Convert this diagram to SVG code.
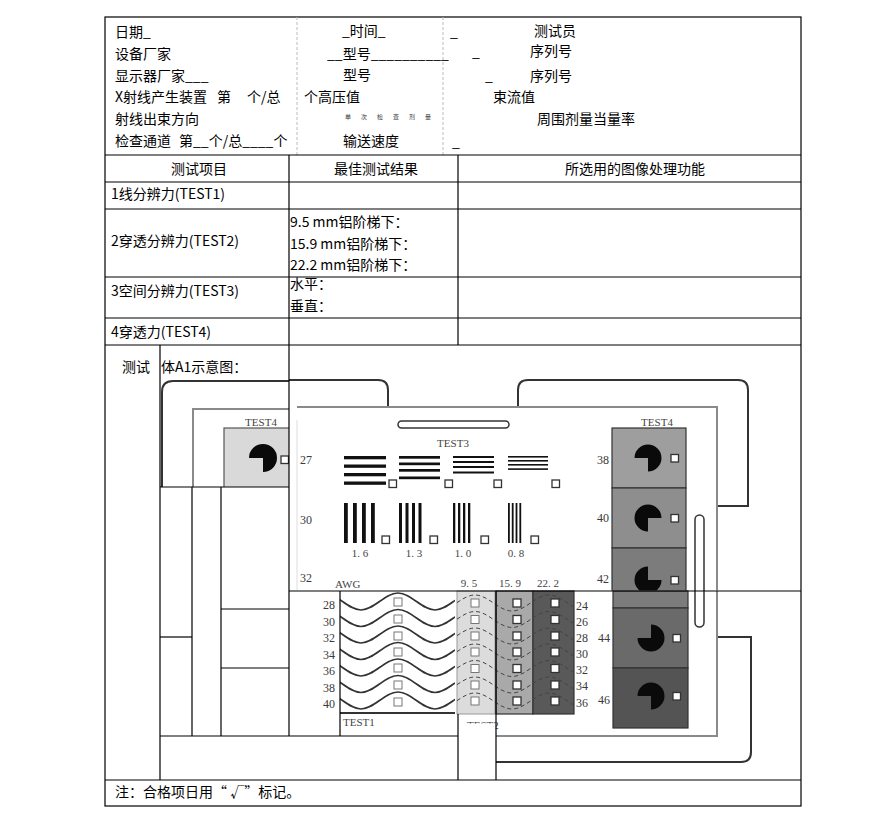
<svg xmlns="http://www.w3.org/2000/svg" width="895" height="816" viewBox="0 0 895 816">
<defs>
<style>
.t{font-family:"Noto Sans CJK SC","Noto Sans",sans-serif;font-size:14px;fill:#000}
.tiny{font-family:"Noto Sans CJK SC",sans-serif;font-size:6px;fill:#333;letter-spacing:10px}
.s{font-family:"Liberation Serif",serif;font-size:11px;fill:#444}
.n{font-family:"Liberation Serif",serif;font-size:12px;fill:#3a3a3a}
.ln{stroke:#000;stroke-width:1.2;fill:none}
.dash{stroke:#bbb;stroke-width:1;stroke-dasharray:3 2;fill:none}
.fr{stroke:#333;stroke-width:2;fill:none}
.in{stroke:#8a8a8a;stroke-width:2;fill:none}
.bar{fill:#111}
.sq{fill:#fff;stroke:#333;stroke-width:1.3}
.sq2{fill:#fff;stroke:#777;stroke-width:1}
.pie{fill:#0a0a0a}
.wave{fill:none;stroke:#333;stroke-width:1.6}
.dw{fill:none;stroke:#444;stroke-width:1;stroke-dasharray:4 3}
.cell{stroke:#333;stroke-width:1.2}
</style>
<clipPath id="cL"><rect x="160" y="380" width="129" height="107"/></clipPath>
<clipPath id="cU"><rect x="289" y="345" width="512" height="245.5"/></clipPath>
<clipPath id="c1"><rect x="340" y="591" width="115" height="122"/></clipPath>
<clipPath id="c2"><rect x="457" y="591" width="117" height="123"/></clipPath>
<path id="wv" d="M324,-8.5 C337.3,-8.5 347.7,8.5 361,8.5 C374.3,8.5 384.7,-8.5 398,-8.5 C411.3,-8.5 421.7,8.5 435,8.5 C448.3,8.5 458.7,-8.5 472,-8.5"/>
<path id="dv" d="M438,8 C451.3,8 461.7,-8 475,-8 C488.3,-8 498.7,8 512,8 C525.3,8 535.7,-8 549,-8 C562.3,-8 572.7,8 586,8"/>
</defs>
<rect width="895" height="816" fill="#fff"/>

<g id="header-texts">
<text class="t" x="115" y="37">日期_</text>
<text class="t" x="115" y="59">设备厂家</text>
<text class="t" x="115" y="81">显示器厂家___</text>
<text class="t" x="115" y="102">X射线产生装置</text>
<text class="t" x="217" y="102">第</text>
<text class="t" x="247" y="102">个/总</text>
<text class="t" x="115" y="124">射线出束方向</text>
<text class="t" x="115" y="146">检查通道</text>
<text class="t" x="179" y="146">第__个/总____个</text>
<text class="t" x="342" y="36">_时间_</text>
<text class="t" x="327" y="59">__型号__________</text>
<text class="t" x="343" y="80">型号</text>
<text class="t" x="304" y="102">个高压值</text>
<text class="tiny" x="345" y="119">单次检查剂量</text>
<text class="t" x="343" y="146">输送速度</text>
<text class="t" x="450" y="37">_</text>
<text class="t" x="534" y="36">测试员</text>
<text class="t" x="472" y="57">_</text>
<text class="t" x="530" y="56">序列号</text>
<text class="t" x="485" y="81">_</text>
<text class="t" x="530" y="81">序列号</text>
<text class="t" x="493" y="102">束流值</text>
<text class="t" x="537" y="124">周围剂量当量率</text>
<text class="t" x="452" y="147">_</text>
</g>

<g id="table-texts">
<text class="t" x="199" y="174" text-anchor="middle">测试项目</text>
<text class="t" x="376" y="174" text-anchor="middle">最佳测试结果</text>
<text class="t" x="635" y="174" text-anchor="middle">所选用的图像处理功能</text>
<text class="t" x="111" y="199">1线分辨力(TEST1)</text>
<text class="t" x="111" y="246">2穿透分辨力(TEST2)</text>
<text class="t" x="290" y="227">9.5 mm铝阶梯下：</text>
<text class="t" x="290" y="249">15.9 mm铝阶梯下：</text>
<text class="t" x="290" y="270">22.2 mm铝阶梯下：</text>
<text class="t" x="111" y="296">3空间分辨力(TEST3)</text>
<text class="t" x="290" y="289">水平：</text>
<text class="t" x="290" y="311">垂直：</text>
<text class="t" x="111" y="337">4穿透力(TEST4)</text>
<text class="t" x="122" y="372">测试</text>
<text class="t" x="161" y="372">体A1示意图：</text>
<text class="t" x="115" y="797">注：合格项日用“ √”标记。</text>
</g>

<g id="phantom-left" clip-path="url(#cL)">
<path class="fr" d="M162,487 V392 Q162,381 173,381 H289"/>
<path class="in" d="M193,487 V409 H289"/>
<text class="s" x="261" y="426" text-anchor="middle">TEST4</text>
<rect x="224" y="428" width="70" height="70" fill="#d9d9d9" stroke="#555" stroke-width="1.2"/>
<path class="pie" d="M263,458 L249,458 A14,14 0 1 1 263,472 Z"/>
<rect class="sq" x="281" y="456" width="7.5" height="7.5"/>
</g>

<g id="phantom-upper" clip-path="url(#cU)">
<path class="fr" d="M289,380 H378 Q388,380 388,390 V407"/>
<path class="fr" d="M518,407 V390 Q518,380 528,380 H738 Q748,380 748,390 V506 H717"/>
<path class="in" d="M297,407 H717 V591"/>
<line x1="297" y1="420" x2="297" y2="590" stroke="#ddd" stroke-width="1"/>
<rect x="398" y="421" width="111" height="7" rx="3.5" fill="none" stroke="#333" stroke-width="1.5"/>
<text class="s" x="453" y="447" text-anchor="middle">TEST3</text>
<text class="n" x="300" y="464">27</text>
<text class="n" x="300" y="524">30</text>
<text class="n" x="300" y="582">32</text>
<text class="s" x="335" y="588">AWG</text>
<g id="hbars">
<rect class="bar" x="344" y="456" width="42" height="3.3"/>
<rect class="bar" x="344" y="464.5" width="42" height="3.3"/>
<rect class="bar" x="344" y="473" width="42" height="3.3"/>
<rect class="bar" x="344" y="481.5" width="42" height="3.3"/>
<rect class="bar" x="399" y="456" width="41" height="2.7"/>
<rect class="bar" x="399" y="462.5" width="41" height="2.7"/>
<rect class="bar" x="399" y="469" width="41" height="2.7"/>
<rect class="bar" x="399" y="476.5" width="41" height="2.7"/>
<rect class="bar" x="453" y="456" width="41" height="2"/>
<rect class="bar" x="453" y="461" width="41" height="2"/>
<rect class="bar" x="453" y="466" width="41" height="2"/>
<rect class="bar" x="453" y="471.5" width="41" height="2"/>
<rect class="bar" x="508" y="456" width="40" height="1.6"/>
<rect class="bar" x="508" y="460" width="40" height="1.6"/>
<rect class="bar" x="508" y="464" width="40" height="1.6"/>
<rect class="bar" x="508" y="468.3" width="40" height="1.6"/>
<rect class="sq" x="389" y="480" width="7.5" height="7.5"/>
<rect class="sq" x="445" y="480" width="7.5" height="7.5"/>
<rect class="sq" x="494" y="480" width="7.5" height="7.5"/>
<rect class="sq" x="552" y="480" width="7.5" height="7.5"/>
</g>
<g id="vbars">
<rect class="bar" x="344" y="503" width="3.8" height="40"/>
<rect class="bar" x="353" y="503" width="3.8" height="40"/>
<rect class="bar" x="362" y="503" width="3.8" height="40"/>
<rect class="bar" x="371" y="503" width="3.8" height="40"/>
<rect class="bar" x="399" y="503" width="3" height="40"/>
<rect class="bar" x="405.5" y="503" width="3" height="40"/>
<rect class="bar" x="412" y="503" width="3" height="40"/>
<rect class="bar" x="418.5" y="503" width="3" height="40"/>
<rect class="bar" x="453" y="503" width="2.3" height="40"/>
<rect class="bar" x="458" y="503" width="2.3" height="40"/>
<rect class="bar" x="463" y="503" width="2.3" height="40"/>
<rect class="bar" x="468" y="503" width="2.3" height="40"/>
<rect class="bar" x="508" y="503" width="1.8" height="40"/>
<rect class="bar" x="511.8" y="503" width="1.8" height="40"/>
<rect class="bar" x="515.6" y="503" width="1.8" height="40"/>
<rect class="bar" x="519.4" y="503" width="1.8" height="40"/>
<rect class="sq" x="382" y="536" width="7.5" height="7.5"/>
<rect class="sq" x="430" y="536" width="7.5" height="7.5"/>
<rect class="sq" x="481" y="536" width="7.5" height="7.5"/>
<rect class="sq" x="531" y="536" width="7.5" height="7.5"/>
<text class="s" x="360" y="557" text-anchor="middle">1. 6</text>
<text class="s" x="414" y="557" text-anchor="middle">1. 3</text>
<text class="s" x="463" y="557" text-anchor="middle">1. 0</text>
<text class="s" x="516" y="557" text-anchor="middle">0. 8</text>
<text class="s" x="469" y="587" text-anchor="middle">9. 5</text>
<text class="s" x="510" y="587" text-anchor="middle">15. 9</text>
<text class="s" x="548" y="587" text-anchor="middle">22. 2</text>
</g>
<g id="test4-upper">
<text class="s" x="657" y="426" text-anchor="middle">TEST4</text>
<rect class="cell" x="612" y="428" width="74" height="60" fill="#9e9e9e"/>
<rect class="cell" x="612" y="488" width="74" height="60" fill="#8e8e8e"/>
<rect class="cell" x="612" y="548" width="74" height="60" fill="#7c7c7c"/>
<path class="pie" d="M648,458 L634.5,458 A13.5,13.5 0 1 1 648,471.5 Z"/>
<path class="pie" d="M648,518 L648,531.5 A13.5,13.5 0 1 1 661.5,518 Z"/>
<path class="pie" d="M648,580 L661.5,580 A13.5,13.5 0 1 1 648,566.5 Z"/>
<rect class="sq" x="671" y="454.5" width="7.5" height="7.5"/>
<rect class="sq" x="671" y="514.5" width="7.5" height="7.5"/>
<rect class="sq" x="671" y="576.5" width="7.5" height="7.5"/>
<text class="n" x="609" y="464" text-anchor="end">38</text>
<text class="n" x="609" y="522" text-anchor="end">40</text>
<text class="n" x="609" y="583" text-anchor="end">42</text>
</g>
</g>

<g id="phantom-lower">
<path class="fr" d="M717,637 H751 V752 Q751,762 741,762 H496"/>
<path class="in" d="M717,591 V736 H496"/>
<rect x="695" y="515" width="9" height="112" rx="4.5" fill="none" stroke="#333" stroke-width="1.5"/>
<rect class="cell" x="613" y="591" width="75" height="17" fill="#7c7c7c"/>
<rect class="cell" x="613" y="608" width="75" height="60" fill="#6a6a6a"/>
<rect class="cell" x="613" y="668" width="75" height="60" fill="#545454"/>
<path class="pie" d="M651,638 L651,624.5 A13.5,13.5 0 1 1 637.5,638 Z"/>
<path class="pie" d="M651,696 L637.5,696 A13.5,13.5 0 1 1 651,709.5 Z"/>
<rect class="sq" x="673" y="634.5" width="7.5" height="7.5"/>
<rect class="sq" x="673" y="692.5" width="7.5" height="7.5"/>
<text class="n" x="610" y="642" text-anchor="end">44</text>
<text class="n" x="610" y="704" text-anchor="end">46</text>

<g id="test1">
<g clip-path="url(#c1)">
<use href="#wv" class="wave" transform="translate(0,601.5)"/>
<use href="#wv" class="wave" transform="translate(0,618)"/>
<use href="#wv" class="wave" transform="translate(0,634.5)"/>
<use href="#wv" class="wave" transform="translate(0,651)"/>
<use href="#wv" class="wave" transform="translate(0,667.5)"/>
<use href="#wv" class="wave" transform="translate(0,684)"/>
<use href="#wv" class="wave" transform="translate(0,700.5)"/>
</g>
<rect class="sq2" x="394" y="598" width="8" height="8"/>
<rect class="sq2" x="394" y="615" width="8" height="8"/>
<rect class="sq2" x="394" y="632" width="8" height="8"/>
<rect class="sq2" x="394" y="648" width="8" height="8"/>
<rect class="sq2" x="394" y="664" width="8" height="8"/>
<rect class="sq2" x="394" y="681" width="8" height="8"/>
<rect class="sq2" x="394" y="698" width="8" height="8"/>
<line x1="340" y1="713" x2="455" y2="713" stroke="#333" stroke-width="2"/>
<text class="n" x="335" y="609" text-anchor="end">28</text>
<text class="n" x="335" y="626" text-anchor="end">30</text>
<text class="n" x="335" y="642" text-anchor="end">32</text>
<text class="n" x="335" y="659" text-anchor="end">34</text>
<text class="n" x="335" y="675" text-anchor="end">36</text>
<text class="n" x="335" y="692" text-anchor="end">38</text>
<text class="n" x="335" y="708" text-anchor="end">40</text>
<text class="s" x="343" y="726">TEST1</text>
</g>

<g id="test2">
<rect x="457" y="591" width="38" height="123" fill="#dcdcdc" stroke="#999" stroke-width="1"/>
<rect x="496" y="591" width="37" height="123" fill="#a9a9a9" stroke="#333" stroke-width="1.2"/>
<rect x="533" y="591" width="41" height="123" fill="#595959" stroke="#333" stroke-width="1.2"/>
<g clip-path="url(#c2)">
<use href="#dv" class="dw" transform="translate(0,603)"/>
<use href="#dv" class="dw" transform="translate(0,619.5)"/>
<use href="#dv" class="dw" transform="translate(0,636)"/>
<use href="#dv" class="dw" transform="translate(0,652)"/>
<use href="#dv" class="dw" transform="translate(0,668.5)"/>
<use href="#dv" class="dw" transform="translate(0,685)"/>
<use href="#dv" class="dw" transform="translate(0,701)"/>
</g>
<rect class="sq2" x="471" y="599" width="8" height="8"/>
<rect class="sq2" x="471" y="615.5" width="8" height="8"/>
<rect class="sq2" x="471" y="632" width="8" height="8"/>
<rect class="sq2" x="471" y="648" width="8" height="8"/>
<rect class="sq2" x="471" y="664.5" width="8" height="8"/>
<rect class="sq2" x="471" y="681" width="8" height="8"/>
<rect class="sq2" x="471" y="697" width="8" height="8"/>
<rect class="sq" x="513" y="599" width="8" height="8"/>
<rect class="sq" x="513" y="615.5" width="8" height="8"/>
<rect class="sq" x="513" y="632" width="8" height="8"/>
<rect class="sq" x="513" y="648" width="8" height="8"/>
<rect class="sq" x="513" y="664.5" width="8" height="8"/>
<rect class="sq" x="513" y="681" width="8" height="8"/>
<rect class="sq" x="513" y="697" width="8" height="8"/>
<rect class="sq" x="551" y="599" width="8" height="8"/>
<rect class="sq" x="551" y="615.5" width="8" height="8"/>
<rect class="sq" x="551" y="632" width="8" height="8"/>
<rect class="sq" x="551" y="648" width="8" height="8"/>
<rect class="sq" x="551" y="664.5" width="8" height="8"/>
<rect class="sq" x="551" y="681" width="8" height="8"/>
<rect class="sq" x="551" y="697" width="8" height="8"/>
<text class="n" x="576" y="610">24</text>
<text class="n" x="576" y="626">26</text>
<text class="n" x="576" y="642">28</text>
<text class="n" x="576" y="658">30</text>
<text class="n" x="576" y="674">32</text>
<text class="n" x="576" y="690">34</text>
<text class="n" x="576" y="707">36</text>
<text class="s" x="467" y="729">TEST2</text>
<rect x="458.6" y="723.5" width="37" height="12" fill="#fff"/>
</g>
</g>

<g id="table-lines" class="ln">
<rect x="105" y="17" width="696" height="789"/>
<line class="dash" x1="297" y1="17" x2="297" y2="155"/>
<line class="dash" x1="443" y1="17" x2="443" y2="155"/>
<line x1="105" y1="155" x2="801" y2="155"/>
<line x1="105" y1="182" x2="801" y2="182"/>
<line x1="105" y1="209" x2="801" y2="209"/>
<line x1="105" y1="277" x2="801" y2="277"/>
<line x1="105" y1="318" x2="801" y2="318"/>
<line x1="105" y1="345" x2="801" y2="345"/>
<line x1="289" y1="155" x2="289" y2="345"/>
<line x1="458" y1="155" x2="458" y2="345"/>
<line x1="160" y1="345" x2="160" y2="780"/>
<line x1="289" y1="345" x2="289" y2="736"/>
<line x1="160" y1="487" x2="289" y2="487"/>
<line x1="192" y1="487" x2="192" y2="736"/>
<line x1="221" y1="487" x2="221" y2="736"/>
<line x1="160" y1="637" x2="192" y2="637"/>
<line x1="221" y1="609" x2="289" y2="609"/>
<line x1="221" y1="668" x2="289" y2="668"/>
<line x1="160" y1="736" x2="458" y2="736"/>
<line x1="289" y1="591" x2="801" y2="591"/>
<line x1="340" y1="591" x2="340" y2="736"/>
<line x1="458" y1="714" x2="458" y2="780"/>
<line x1="496" y1="591" x2="496" y2="780"/>
<line x1="105" y1="780" x2="801" y2="780"/>
</g>
</svg>
